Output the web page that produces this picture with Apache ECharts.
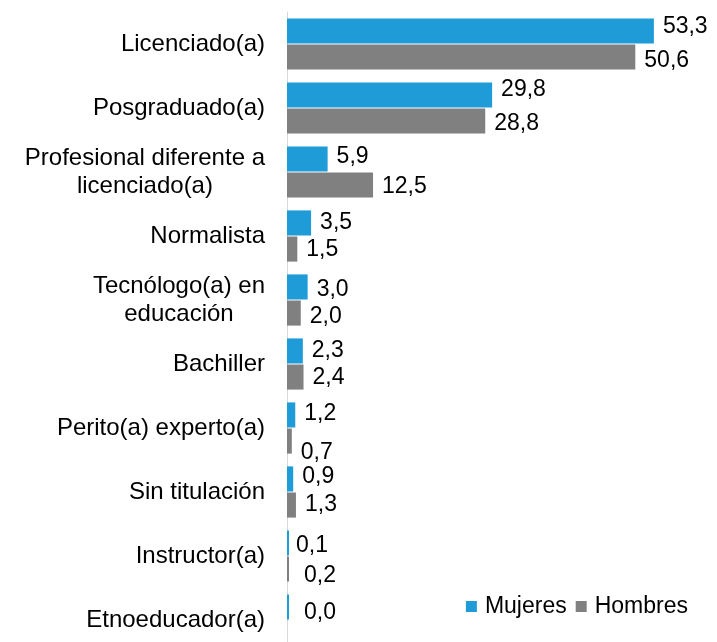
<!DOCTYPE html>
<html lang="es">
<head>
    <meta charset="UTF-8">
    <title>Titulación por sexo</title>
    <script src="https://cdn.jsdelivr.net/npm/echarts@6/dist/echarts.min.js"></script>
    <style>
        html, body { margin: 0; padding: 0; background: #fff; overflow: hidden; }
    </style>
</head>
<body>
<div id="chart" style="width: 717px;height: 652px;"></div>
<script>
    // categorías (de arriba hacia abajo)
    var categorias = ['Licenciado(a)', 'Posgraduado(a)', 'Profesional diferente a\nlicenciado(a)', 'Normalista',
        'Tecnólogo(a) en\neducación', 'Bachiller', 'Perito(a) experto(a)', 'Sin titulación', 'Instructor(a)', 'Etnoeducador(a)'];
    var mujeres = [53.3, 29.8, 5.9, 3.5, 3.0, 2.3, 1.2, 0.9, 0.1, 0.0];
    var hombres = [50.6, 28.8, 12.5, 1.5, 2.0, 2.4, 0.7, 1.3, 0.2, null];

    // pequeños desplazamientos de las etiquetas, como en el original
    var ajusteM = [[0, -4], [0, -5], [0, -2], [0, 0], [0, 3], [0, 0], [0, -1], [0, -2], [-2, 3], [6, 6]];
    var ajusteH = [[0, 4], [0, 3], [0, 2], [0, 1], [0, 4], [0, 1], [0, 12], [0, 0], [6, 7], [0, 0]];

    var fuente = '"Liberation Sans", Arial, sans-serif';

    function etiqueta(p) {
        if (p.value == null) return '';
        return p.value.toFixed(1).replace('.', ',');
    }

    function armar(valores, ajustes) {
        return valores.map(function (v, i) {
            return { value: v, label: { offset: ajustes[i] } };
        });
    }

    var myChart = echarts.init(document.getElementById('chart'));
    var option = {
        animation: false,
        textStyle: { fontFamily: fuente },
        grid: { left: 287, right: 17, top: 12, bottom: 0, containLabel: false, outerBoundsMode: 'none' },
        legend: {
            data: ['Mujeres', 'Hombres'],
            right: 24,
            top: 590,
            itemWidth: 11,
            itemHeight: 11,
            itemGap: 9,
            icon: 'rect',
            textStyle: { fontSize: 23, color: '#000', fontFamily: fuente, padding: [0, 0, 0, 3] }
        },
        xAxis: {
            type: 'value',
            min: 0,
            max: 60,
            show: false
        },
        yAxis: {
            type: 'category',
            inverse: true,
            data: categorias,
            axisLine: { show: true, lineStyle: { color: '#d9d9d9', width: 1 } },
            axisTick: { show: false },
            axisLabel: {
                margin: 22,
                align: 'right',
                formatter: function (v) {
                    return v.split('\n').map(function (l) { return '{c|' + l + '}'; }).join('\n');
                },
                rich: {
                    c: {
                        align: 'center',
                        fontSize: 24,
                        lineHeight: 28,
                        color: '#000',
                        fontFamily: fuente
                    }
                }
            }
        },
        series: [
            {
                name: 'Mujeres',
                type: 'bar',
                data: armar(mujeres, ajusteM),
                barGap: '4%',
                barCategoryGap: '20%',
                barMinHeight: 2,
                itemStyle: { color: '#1f9bd7' },
                label: {
                    show: true,
                    position: 'right',
                    distance: 9,
                    fontSize: 23,
                    color: '#000',
                    fontFamily: fuente,
                    formatter: etiqueta
                }
            },
            {
                name: 'Hombres',
                type: 'bar',
                data: armar(hombres, ajusteH),
                barMinHeight: 2,
                itemStyle: { color: '#808080' },
                label: {
                    show: true,
                    position: 'right',
                    distance: 9,
                    fontSize: 23,
                    color: '#000',
                    fontFamily: fuente,
                    formatter: etiqueta
                }
            }
        ]
    };
    myChart.setOption(option);
</script>
</body>
</html>
